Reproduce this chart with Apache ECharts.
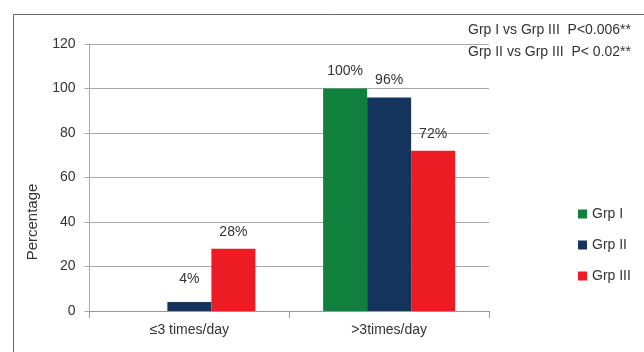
<!DOCTYPE html>
<html lang="en">
<head>
<meta charset="UTF-8">
<title>frequency</title>
<script src="https://cdn.jsdelivr.net/npm/echarts@6/dist/echarts.min.js"></script>
<style>
    body { margin: 0; background: #fff; }
    #main { width: 644px; height: 352px; }
</style>
</head>
<body>
<div id="main"></div>
<script>
    var categories = ['≤3 times/day', '>3times/day'];
    var grp1 = [0, 100];
    var grp2 = [4, 96];
    var grp3 = [28, 72];
    var yTicks = [0, 20, 40, 60, 80, 100, 120];
    var font = 'Liberation Sans';

    var myChart = echarts.init(document.getElementById('main'));

    function bar(name, data, color) {
        return {
            name: name,
            type: 'bar',
            data: data.map(function (v) {
                // the small 4% label sits a bit higher in the original
                return v > 0 && v < 10 ? { value: v, label: { distance: 16 } } : v;
            }),
            barWidth: 44,
            barGap: 0,
            itemStyle: { color: color },
            label: {
                show: true,
                position: 'top',
                distance: 10,
                fontFamily: font,
                fontSize: 14,
                color: '#333',
                formatter: function (p) {
                    return p.value > 0 ? p.value + '%' : '';
                }
            }
        };
    }

    var option = {
        animation: false,
        textStyle: { fontFamily: font },
        grid: { left: 89.5, top: 44, right: 155, bottom: 41 },
        legend: {
            orient: 'vertical',
            left: 573,
            top: 202,
            itemWidth: 9,
            itemHeight: 9,
            itemGap: 17,
            icon: 'rect',
            textStyle: { fontFamily: font, fontSize: 14, color: '#333' },
            data: ['Grp I', 'Grp II', 'Grp III']
        },
        xAxis: {
            type: 'category',
            data: categories,
            axisLine: { lineStyle: { color: '#999' } },
            axisTick: { show: true, length: 7, lineStyle: { color: '#999' } },
            axisLabel: { fontFamily: font, fontSize: 14, color: '#333', margin: 12 }
        },
        yAxis: {
            type: 'value',
            min: yTicks[0],
            max: yTicks[yTicks.length - 1],
            interval: 20,
            axisLine: { show: true, lineStyle: { color: '#aaa' } },
            axisTick: { show: true, length: 5, lineStyle: { color: '#aaa' } },
            axisLabel: { fontFamily: font, fontSize: 14, color: '#333', margin: 14 },
            splitLine: { lineStyle: { color: '#aaa' } }
        },
        graphic: [
            {
                type: 'rect',
                left: 11, top: 12,
                shape: { width: 700, height: 400 },
                style: { fill: 'none', stroke: '#666', lineWidth: 1 },
                silent: true
            },
            {
                type: 'text',
                x: 33, y: 222,
                rotation: Math.PI / 2,
                style: {
                    text: 'Percentage',
                    fontFamily: font, fontSize: 15, fill: '#333',
                    align: 'center', verticalAlign: 'middle'
                }
            },
            {
                type: 'text',
                left: 468, top: 19,
                style: {
                    text: 'Grp I vs Grp III  P<0.006**\nGrp II vs Grp III  P< 0.02**',
                    fontFamily: font, fontSize: 14, fill: '#333', lineHeight: 22
                }
            }
        ],
        series: [
            bar('Grp I', grp1, '#11803f'),
            bar('Grp II', grp2, '#15345d'),
            bar('Grp III', grp3, '#ed1c24')
        ]
    };

    myChart.setOption(option);
</script>
</body>
</html>
